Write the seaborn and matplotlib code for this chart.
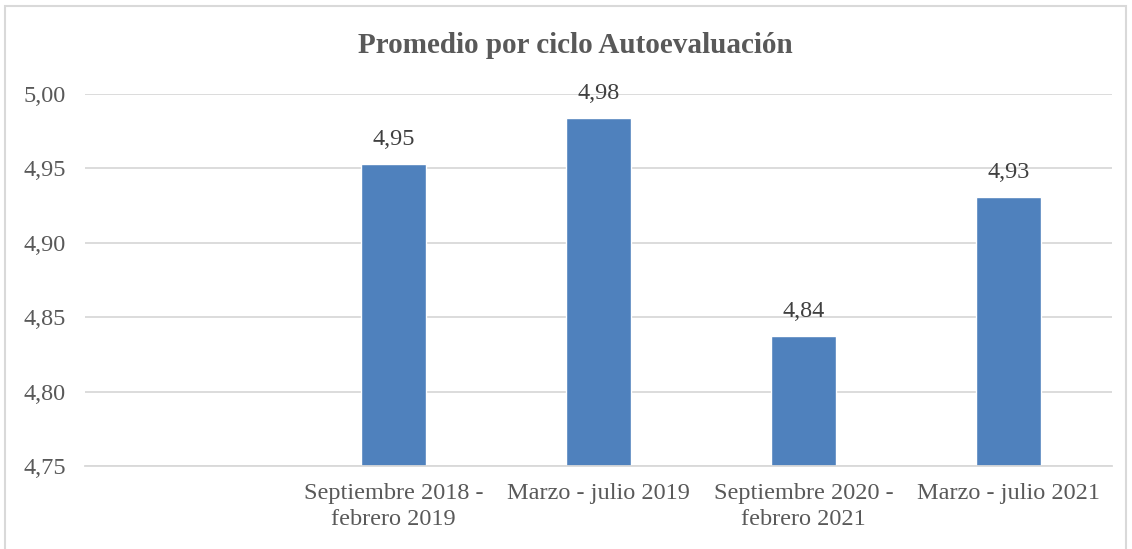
import matplotlib
matplotlib.use("Agg")
import matplotlib.pyplot as plt
from matplotlib.patches import Rectangle
import seaborn as sns
import pandas as pd

categories = ["Septiembre 2018 -\nfebrero 2019", "Marzo - julio 2019",
              "Septiembre 2020 -\nfebrero 2021", "Marzo - julio 2021"]
order = [""] + categories
values = [4.953, 4.984, 4.8376, 4.931]
yticks = [4.75, 4.80, 4.85, 4.90, 4.95, 5.00]
title = "Promedio por ciclo Autoevaluación"

sns.set_theme(style="white")
plt.rcParams["font.family"] = ["Liberation Serif", "DejaVu Serif"]

df = pd.DataFrame({"ciclo": categories, "valor": values})

fig = plt.figure(figsize=(11.32, 5.49), dpi=100)
ax = fig.add_axes([0.0755, 0.1512, 0.9064, 0.6776])

sns.barplot(data=df, x="ciclo", y="valor", order=order, color="#4F81BD",
            saturation=1, width=0.316, ax=ax)

ax.set_ylim(4.75, 5.00)
ax.set_xlim(-0.5, 4.5)
ax.set_yticks(yticks)
ax.set_yticklabels([f"{t:.2f}".replace(".", ",") for t in yticks])
ax.set_xlabel("")
ax.set_ylabel("")
ax.grid(axis="y", color="#D9D9D9", linewidth=1.3)
ax.set_axisbelow(True)
for s in ["top", "right", "left"]:
    ax.spines[s].set_visible(False)
ax.spines["bottom"].set_color("#D9D9D9")
ax.spines["bottom"].set_linewidth(1.3)
ax.tick_params(axis="y", length=0, pad=14, labelsize=17.5, labelcolor="#595959")
ax.tick_params(axis="x", length=0, pad=12, labelsize=17.5, labelcolor="#595959")
for lbl in ax.get_xticklabels():
    lbl.set_linespacing(1.35)

for cont in ax.containers:
    labs = []
    for bar in cont:
        h = bar.get_height()
        labs.append(f"{h:.2f}".replace(".", ",") if h == h else "")
    ax.bar_label(cont, labels=labs, padding=10, fontsize=17.5, color="#404040", clip_on=False)

fig.text(0.508, 0.918, title, ha="center", va="center", fontsize=21,
         fontweight="bold", color="#595959")

fig.patches.append(Rectangle((5 / 1132, -0.01), 1121 / 1132, 1 - 6 / 549 + 0.01,
                             transform=fig.transFigure, fill=False,
                             edgecolor="#D9D9D9", linewidth=1.5))

fig.savefig("out.png", dpi=100)
